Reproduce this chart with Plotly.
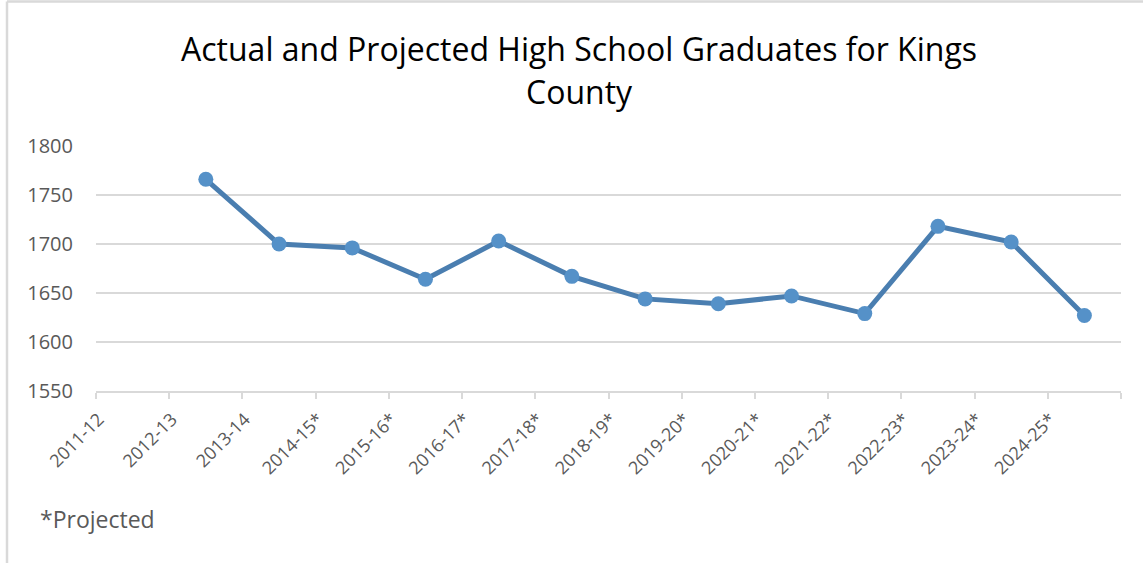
import plotly.graph_objects as go

categories = ["2011-12", "2012-13", "2013-14", "2014-15*", "2015-16*", "2016-17*",
              "2017-18*", "2018-19*", "2019-20*", "2020-21*", "2021-22*", "2022-23*",
              "2023-24*", "2024-25*"]
data_years = categories[1:]
graduates = [1766, 1700, 1696, 1664, 1703, 1667, 1644, 1639, 1647, 1629, 1718, 1702, 1627]
y_ticks = [1550, 1600, 1650, 1700, 1750, 1800]

W, H = 1143, 563
L, R, T, B = 96, 22, 146, 172
pw, ph = W - L - R, H - T - B

FONT = "Open Sans"
GRAY = "#595959"
GRID = "#d9d9d9"

fig = go.Figure()
fig.add_trace(go.Scatter(
    x=data_years, y=graduates, mode="lines+markers",
    line=dict(color="#4a7eb0", width=5),
    marker=dict(color="#5591c8", size=15),
    showlegend=False, cliponaxis=False,
))

def px_x(p):
    return (p - L) / pw

def px_y(p):
    return (H - B - p) / ph

fig.update_layout(
    width=W, height=H,
    margin=dict(l=L, r=R, t=T, b=B, autoexpand=False),
    paper_bgcolor="white", plot_bgcolor="white",
    font=dict(family=FONT, color=GRAY),
    xaxis=dict(
        type="category", categoryorder="array", categoryarray=categories,
        range=[-0.5, len(categories) - 0.5],
        showgrid=False, showline=True, linecolor=GRID, linewidth=1.5,
        ticks="outside", tickson="boundaries", ticklen=6, tickcolor=GRID, tickwidth=1.5,
        tickangle=-45, tickfont=dict(size=18, color=GRAY, family=FONT),
        ticklabelshift=-34, ticklabelstandoff=9,
        fixedrange=True,
    ),
    yaxis=dict(
        range=[1550, 1800], tickvals=y_ticks,
        showgrid=True, gridcolor=GRID, gridwidth=1.5,
        zeroline=False, showline=False,
        tickfont=dict(size=20, color=GRAY, family=FONT),
        ticklabelstandoff=22,
        fixedrange=True,
    ),
    annotations=[
        dict(text="Actual and Projected High School Graduates for Kings",
             xref="paper", yref="paper", x=px_x(579), y=px_y(49),
             xanchor="center", yanchor="middle", showarrow=False,
             font=dict(size=32, color="#000000", family=FONT)),
        dict(text="County",
             xref="paper", yref="paper", x=px_x(579), y=px_y(91),
             xanchor="center", yanchor="middle", showarrow=False,
             font=dict(size=32, color="#000000", family=FONT)),
        dict(text="*Projected",
             xref="paper", yref="paper", x=px_x(38), y=px_y(519),
             xanchor="left", yanchor="middle", showarrow=False,
             font=dict(size=23, color=GRAY, family=FONT)),
    ],
    shapes=[
        dict(type="line", xref="paper", yref="paper",
             x0=px_x(7), x1=px_x(7), y0=px_y(563), y1=px_y(1.5),
             line=dict(color=GRID, width=2.5)),
        dict(type="line", xref="paper", yref="paper",
             x0=px_x(7), x1=px_x(1143), y0=px_y(1.5), y1=px_y(1.5),
             line=dict(color=GRID, width=2.5)),
    ],
)

fig.write_html("out.html", config={"displayModeBar": False},
               post_script="document.body.style.margin='0px';")
